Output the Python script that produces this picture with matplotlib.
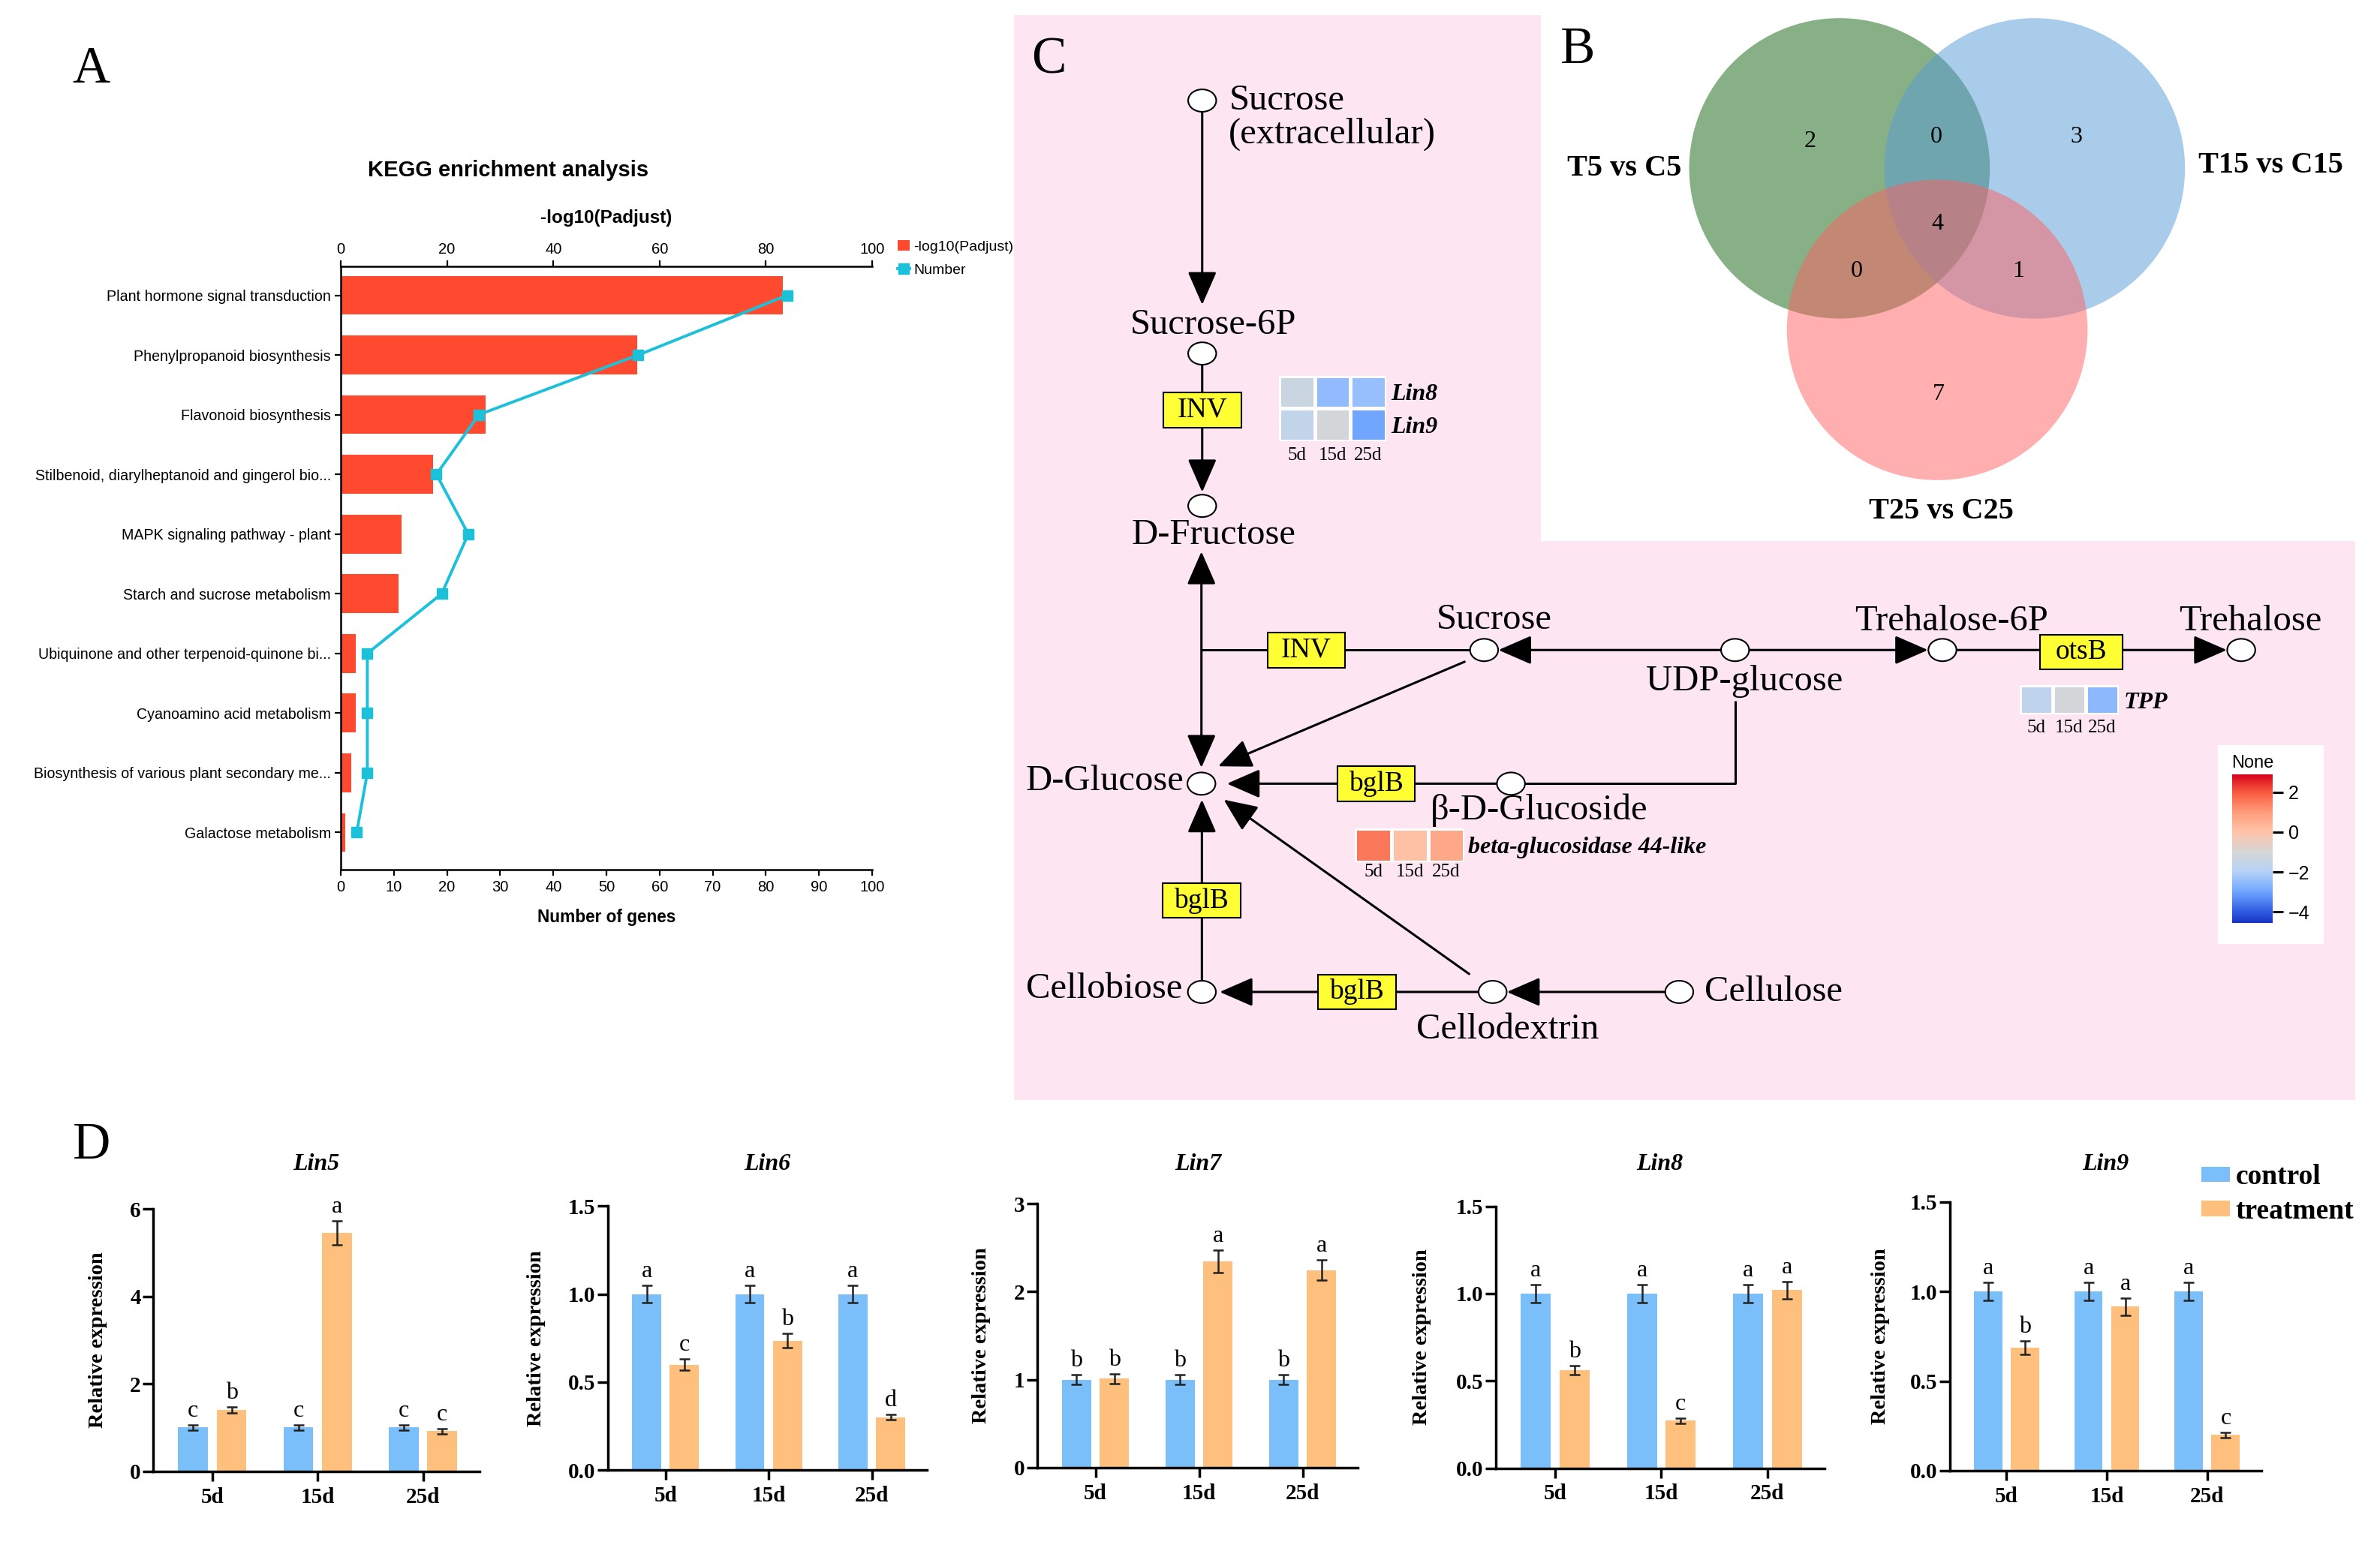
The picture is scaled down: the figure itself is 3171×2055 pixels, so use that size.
import numpy as np
import matplotlib.pyplot as plt
from matplotlib.patches import Ellipse, Rectangle, Polygon
from matplotlib.colors import LinearSegmentedColormap, Normalize
from matplotlib.cm import ScalarMappable

SERIF = "Liberation Serif"
SANS = "Liberation Sans"

# ---------------- data ----------------
kegg_terms = [
    "Plant hormone signal transduction",
    "Phenylpropanoid biosynthesis",
    "Flavonoid biosynthesis",
    "Stilbenoid, diarylheptanoid and gingerol bio...",
    "MAPK signaling pathway - plant",
    "Starch and sucrose metabolism",
    "Ubiquinone and other terpenoid-quinone bi...",
    "Cyanoamino acid metabolism",
    "Biosynthesis of various plant secondary me...",
    "Galactose metabolism",
]
kegg_padj = [83.2, 55.8, 27.3, 17.4, 11.5, 10.9, 2.8, 2.8, 2.0, 0.8]
kegg_genes = [84, 56, 26, 18, 24, 19, 5, 5, 5, 3]

venn_names = ["T5 vs C5", "T15 vs C15", "T25 vs C25"]
venn_counts = {"100": 2, "110": 0, "010": 3, "111": 4, "101": 0, "011": 1, "001": 7}

days = ["5d", "15d", "25d"]
heat_lin89 = [[-1.35, -2.5, -2.4],
              [-1.6, -1.1, -2.95]]
heat_tpp = [[-1.65, -1.1, -2.55]]
heat_bglu = [[1.55, 0.08, 0.7]]

genes = ["Lin5", "Lin6", "Lin7", "Lin8", "Lin9"]
ctrl_mean = [[1.0, 1.0, 1.0], [1.0, 1.0, 1.0], [1.0, 1.0, 1.0], [1.0, 1.0, 1.0], [1.0, 1.0, 1.0]]
ctrl_err = [[0.06, 0.06, 0.06], [0.05, 0.05, 0.05], [0.055, 0.055, 0.055], [0.05, 0.05, 0.05], [0.05, 0.05, 0.05]]
trt_mean = [[1.40, 5.45, 0.92], [0.60, 0.735, 0.30], [1.01, 2.345, 2.245], [0.56, 0.272, 1.02], [0.688, 0.915, 0.199]]
trt_err = [[0.07, 0.28, 0.06], [0.03, 0.04, 0.015], [0.055, 0.125, 0.115], [0.025, 0.015, 0.05], [0.037, 0.048, 0.013]]
ctrl_let = [["c", "c", "c"], ["a", "a", "a"], ["b", "b", "b"], ["a", "a", "a"], ["a", "a", "a"]]
trt_let = [["b", "a", "c"], ["c", "b", "d"], ["b", "a", "a"], ["b", "c", "a"], ["b", "a", "c"]]
yticks_d = [[0, 2, 4, 6], [0, 0.5, 1.0, 1.5], [0, 1, 2, 3], [0, 0.5, 1.0, 1.5], [0, 0.5, 1.0, 1.5]]

# ---------------- figure ----------------
fig = plt.figure(figsize=(31.71, 20.55), dpi=100)
W, H = 1561.0, 1012.0


def rect(x0, y0, x1, y1):
    return [x0 / W, 1 - y1 / H, (x1 - x0) / W, (y1 - y0) / H]


bg = fig.add_axes([0, 0, 1, 1])
bg.set_xlim(0, W)
bg.set_ylim(H, 0)
bg.axis("off")

# panel letters
for lab, (lx, ly) in zip("ABCD", [(60, 46), (1035, 33), (688, 40), (60, 752)]):
    bg.text(lx, ly, lab, fontsize=50, family=SERIF, ha="center", va="center")

# ---------------- A : KEGG ----------------
ax_a = fig.add_axes(rect(223.5, 175, 572, 571))
ax_t = ax_a.twiny()
ypos = np.arange(len(kegg_terms))
bars = ax_t.barh(ypos, kegg_padj, height=0.65, color="#FF4A2F")
line, = ax_a.plot(kegg_genes, ypos, color="#1AC1D9", lw=2.8, marker="s", ms=10)
ax_a.set_zorder(ax_t.get_zorder() + 1)
ax_a.patch.set_visible(False)
ax_a.set_xlim(0, 100)
ax_t.set_xlim(0, 100)
ax_a.set_ylim(9.63, -0.48)
ax_a.set_xticks(range(0, 101, 10))
ax_t.set_xticks(range(0, 101, 20))
ax_a.set_yticks(ypos)
ax_a.set_yticklabels(kegg_terms, family=SANS, fontsize=14.1)
for t in ax_a.get_xticklabels() + ax_t.get_xticklabels():
    t.set_family(SANS)
    t.set_fontsize(14.5)
ax_a.tick_params(axis="both", width=1.6, length=6)
ax_t.tick_params(axis="x", width=1.6, length=6)
ax_t.tick_params(axis="y", left=False, labelleft=False, right=False, labelright=False)
for s in ["top", "right"]:
    ax_a.spines[s].set_visible(False)
for s in ["right", "bottom", "left"]:
    ax_t.spines[s].set_visible(False)
for a in (ax_a, ax_t):
    for s in a.spines.values():
        s.set_linewidth(1.8)
ax_a.set_xlabel("Number of genes", family=SANS, fontsize=16.3, fontweight="bold")
ax_a.xaxis.set_label_coords(0.5, -(601.8 - 571) / 396)
ax_t.set_xlabel("-log10(Padjust)", family=SANS, fontsize=17.5, fontweight="bold")
ax_t.xaxis.set_label_coords(0.5, 1 + (571 - 143 - 396) / 396)
ax_a.xaxis.label.set_va("center")
ax_t.xaxis.label.set_va("center")
bg.text(333.5, 112, "KEGG enrichment analysis", family=SANS, fontsize=21,
        fontweight="bold", ha="center", va="center")
ax_a.legend([bars, line], ["-log10(Padjust)", "Number"], loc="upper left",
            bbox_to_anchor=(584 / W, 1 - 153 / H), bbox_transform=fig.transFigure,
            frameon=False, prop=dict(family=SANS, size=14), handlelength=0.8,
            handletextpad=0.3, labelspacing=0.7, borderpad=0)

# ---------------- C : pathway ----------------
pink = "#FDE5F2"
bg.add_patch(Polygon([(665, 10), (1010.5, 10), (1010.5, 355), (1545, 355),
                      (1545, 722), (665, 722)], closed=True, facecolor=pink,
                     edgecolor="none", zorder=0))

lines = [
    [(788, 426.6), (964, 426.6)],
    [(1138, 460), (1138, 514.3), (1000, 514.3)],
]
for pts in lines:
    xs, ys = zip(*pts)
    bg.plot(xs, ys, color="black", lw=2.2, zorder=2, solid_capstyle="butt")

arrows = [
    ((788.5, 73.5), (788.5, 200), "-|>"),
    ((788.5, 239.5), (788.5, 323), "-|>"),
    ((788, 362), (788, 503.8), "<|-|>"),
    ((960.6, 434.3), (799, 502.9), "-|>"),
    ((1129, 426.6), (982.8, 426.6), "-|>"),
    ((1147, 426.6), (1264.5, 426.6), "-|>"),
    ((1283, 426.6), (1460.5, 426.6), "-|>"),
    ((982, 514.3), (804.7, 514.3), "-|>"),
    ((788.3, 643.5), (788.3, 524.8), "-|>"),
    ((963.6, 639.2), (802.6, 524.8), "-|>"),
    ((970, 651), (800, 651), "-|>"),
    ((1092, 651), (988.4, 651), "-|>"),
]
for start, tip, sty in arrows:
    bg.annotate("", xy=tip, xytext=start, zorder=2,
                arrowprops=dict(arrowstyle=sty + ",head_length=0.55,head_width=0.24",
                                mutation_scale=50, lw=2.2, color="black",
                                shrinkA=0, shrinkB=0))

nodes = [(788.5, 66), (788.5, 232), (788.5, 332), (788, 514.3), (973.4, 426.6),
         (1138, 426.6), (1274, 426.6), (1470, 426.6), (991, 514.3),
         (788.3, 651), (979, 651), (1101.4, 651)]
for nx, ny in nodes:
    bg.add_patch(Ellipse((nx, ny), 18.4, 14.7, facecolor="white",
                         edgecolor="black", lw=1.5, zorder=3))

boxes = [("INV", 788.5, 269, 51), ("INV", 856.8, 426.6, 51), ("bglB", 902.5, 514.3, 51),
         ("bglB", 788, 591, 51), ("bglB", 890, 651, 51), ("otsB", 1365, 428, 54)]
for txt, bx, by, bw in boxes:
    bg.add_patch(Rectangle((bx - bw / 2, by - 11.5), bw, 23, facecolor="#FFFF33",
                           edgecolor="black", lw=1.5, zorder=4))
    bg.text(bx, by, txt, family=SERIF, fontsize=27, ha="center", va="center", zorder=5)

labels = [
    ("Sucrose", 806, 66, "left"), ("(extracellular)", 806, 88, "left"),
    ("Sucrose-6P", 796, 213, "center"), ("D-Fructose", 796, 351, "center"),
    ("D-Glucose", 776.5, 512.6, "right"), ("Sucrose", 980, 406.6, "center"),
    ("UDP-glucose", 1144, 447, "center"), ("Trehalose-6P", 1280, 408, "center"),
    ("Trehalose", 1476, 408, "center"), ("β-D-Glucoside", 1009.5, 531.7, "center"),
    ("Cellobiose", 775.5, 649, "right"), ("Cellodextrin", 989, 675.6, "center"),
    ("Cellulose", 1118, 651, "left"),
]
for txt, tx, ty, ha in labels:
    bg.text(tx, ty, txt, family=SERIF, fontsize=35, ha=ha, va="center", zorder=5)

# heatmaps
cmap = LinearSegmentedColormap.from_list("expr", [
    (0.0, "#1634C4"), (0.55 / 7.46, "#2F5BE0"), (1.55 / 7.46, "#6FA5FF"),
    (2.55 / 7.46, "#B4D2F8"), (3.55 / 7.46, "#D6D6D6"), (4.55 / 7.46, "#FFC4A8"),
    (5.55 / 7.46, "#FF9C7C"), (6.55 / 7.46, "#F85A3E"), (1.0, "#D4001A")])
norm = Normalize(vmin=-4.55, vmax=2.91)


def heat(box, vals, names, xpad, ypad):
    hax = fig.add_axes(rect(*box))
    arr = np.array(vals)
    hax.pcolormesh(arr, cmap=cmap, norm=norm, edgecolors="white", linewidth=2.5)
    hax.set_xlim(0, 3)
    hax.set_ylim(arr.shape[0], 0)
    hax.set_xticks([0.5, 1.5, 2.5])
    hax.set_xticklabels(days, family=SERIF, fontsize=18)
    hax.yaxis.tick_right()
    hax.set_yticks(np.arange(arr.shape[0]) + 0.5)
    hax.set_yticklabels(names, family=SERIF, fontsize=23, fontweight="bold", style="italic")
    hax.tick_params(axis="x", length=0, pad=xpad)
    hax.tick_params(axis="y", length=0, pad=ypad)
    for s in hax.spines.values():
        s.set_visible(False)
    hax.patch.set_visible(False)
    return hax


heat((839, 246.5, 909, 289.5), heat_lin89, ["Lin8", "Lin9"], 6, 5)
heat((888.7, 543.5, 960.6, 565.6), heat_bglu, ["beta-glucosidase 44-like"], 2, 3)
heat((1324.5, 449.7, 1389.5, 469), heat_tpp, ["TPP"], 5, 5)

bg.add_patch(Rectangle((1454.5, 489), 69.5, 130.5, facecolor="white", edgecolor="none", zorder=1))
cax = fig.add_axes(rect(1464, 508, 1490.5, 605.6))
cb = fig.colorbar(ScalarMappable(norm=norm, cmap=cmap), cax=cax, ticks=[2, 0, -2, -4])
cb.outline.set_visible(False)
cax.tick_params(length=10, width=2.2, labelsize=18, pad=5)
for t in cax.get_yticklabels():
    t.set_family(SANS)
cax.set_title("None", family=SANS, fontsize=17, pad=6)

# ---------------- B : Venn ----------------
venn_centers = [(1206.5, 110.5), (1334.5, 110.5), (1270.6, 216.5)]
venn_colors = ["#116311", "#569BD8", "#FF6161"]
for (cx, cy), col in zip(venn_centers, venn_colors):
    bg.add_patch(Ellipse((cx, cy), 197.2, 197.2, facecolor=col, alpha=0.5,
                         edgecolor="none", zorder=1))
region_pos = {"100": (1187, 92.7), "110": (1269.7, 90), "010": (1361.6, 90),
              "111": (1270.8, 147), "101": (1218, 178.2), "011": (1323.8, 178.2),
              "001": (1271.5, 259)}
for key, n in venn_counts.items():
    px, py = region_pos[key]
    bg.text(px, py, str(n), family=SERIF, fontsize=23, ha="center", va="center", zorder=2)
for name, (px, py) in zip(venn_names, [(1065.6, 110.8), (1489.5, 108.5), (1273, 335.7)]):
    bg.text(px, py, name, family=SERIF, fontsize=29, fontweight="bold",
            ha="center", va="center", zorder=2)

# ---------------- D : qPCR bars ----------------
d_boxes = [(100.6, 793.4, 314.4, 965.6), (398.6, 791.5, 608, 964.9),
           (680.5, 790, 890.7, 963.2), (981, 791.7, 1196.5, 963.5),
           (1279, 788.8, 1483, 965.2)]
ylab_x = [70.5, 357.8, 649.7, 939, 1239.5]
c_blue, c_orange = "#7ABEFA", "#FFC07E"
xg = np.arange(3)
off, bw = 0.183, 0.283
for i, g in enumerate(genes):
    x0, y0, x1, y1 = d_boxes[i]
    ax = fig.add_axes(rect(*d_boxes[i]))
    ekw = dict(elinewidth=1.8, capthick=1.8, ecolor="#222222")
    b1 = ax.bar(xg - off, ctrl_mean[i], bw, yerr=ctrl_err[i], color=c_blue,
                capsize=5, error_kw=ekw)
    b2 = ax.bar(xg + off, trt_mean[i], bw, yerr=trt_err[i], color=c_orange,
                capsize=5, error_kw=ekw)
    for j in range(3):
        ax.annotate(ctrl_let[i][j], (xg[j] - off, ctrl_mean[i][j] + ctrl_err[i][j]),
                    xytext=(0, 8), textcoords="offset points", ha="center",
                    va="baseline", family=SERIF, fontsize=23)
        ax.annotate(trt_let[i][j], (xg[j] + off, trt_mean[i][j] + trt_err[i][j]),
                    xytext=(0, 8), textcoords="offset points", ha="center",
                    va="baseline", family=SERIF, fontsize=23)
    ax.set_xlim(-0.56, 2.535)
    ax.set_ylim(0, yticks_d[i][-1])
    ax.set_yticks(yticks_d[i])
    if i in (1, 3, 4):
        ax.set_yticklabels(["%.1f" % v for v in yticks_d[i]])
    ax.set_xticks(xg)
    ax.set_xticklabels(days)
    for t in ax.get_xticklabels() + ax.get_yticklabels():
        t.set_family(SERIF)
        t.set_fontweight("bold")
    ax.tick_params(axis="y", labelsize=21, length=10, width=2.5, pad=2)
    ax.tick_params(axis="x", labelsize=21, length=9, width=2.5, pad=6)
    for s in ["top", "right"]:
        ax.spines[s].set_visible(False)
    for s in ["left", "bottom"]:
        ax.spines[s].set_linewidth(2.5)
    ax.patch.set_visible(False)
    ax.set_ylabel("Relative expression", family=SERIF, fontsize=20.5, fontweight="bold")
    ax.yaxis.set_label_coords((ylab_x[i] - x0) / (x1 - x0), 0.5)
    ax.text(0.5, 1 + (y0 - 764) / (y1 - y0), g, transform=ax.transAxes, family=SERIF,
            fontsize=23, fontweight="bold", style="italic", ha="center", va="center")
    if i == 4:
        ax.legend([b1, b2], ["control", "treatment"], loc="upper left",
                  bbox_to_anchor=(1444 / W, 1 - 764 / H), bbox_transform=fig.transFigure,
                  frameon=False, prop=dict(family=SERIF, weight="bold", size=27),
                  handlelength=1.0, handleheight=0.45, handletextpad=0.2,
                  labelspacing=0.28, borderpad=0, borderaxespad=0)

fig.savefig("out.png", dpi=100, facecolor="white")
